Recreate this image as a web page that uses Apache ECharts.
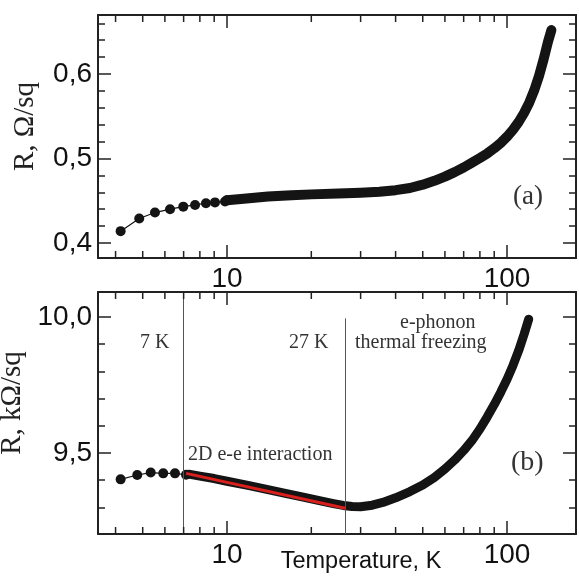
<!DOCTYPE html>
<html>
<head>
<meta charset="utf-8">
<script src="https://cdn.jsdelivr.net/npm/echarts@6/dist/echarts.min.js"></script>
<style>
html,body{margin:0;padding:0;background:#fff;}
#chart{width:579px;height:577px;}
</style>
</head>
<body>
<div id="chart"></div>
<script>
// ---------- data ----------
// panel (a): sheet resistance, ohm/sq
const T_TOP_DOTS = [4.17, 4.86, 5.53, 6.26, 6.98, 7.69, 8.41, 9.06, 9.84];
const R_TOP_DOTS = [0.414, 0.429, 0.436, 0.440, 0.443, 0.445, 0.447, 0.448, 0.449];
const T_TOP_DENSE = [10, 12, 14, 17, 20, 25, 30, 35, 40, 45, 50, 55, 60, 65, 70, 75, 80, 85, 90, 95, 100, 105, 110, 115, 120, 125, 130, 135, 140, 144];
const R_TOP_DENSE = [0.4505, 0.453, 0.455, 0.4565, 0.4575, 0.4585, 0.4595, 0.4607, 0.4625, 0.465, 0.469, 0.4735, 0.4785, 0.4838, 0.4893, 0.495, 0.5005, 0.506, 0.512, 0.5185, 0.5258, 0.534, 0.5432, 0.5538, 0.566, 0.5805, 0.5975, 0.617, 0.638, 0.652];

// panel (b): sheet resistance, kohm/sq
const T_BOT_DOTS = [4.17, 4.78, 5.34, 5.92, 6.52, 7.14];
const R_BOT_DOTS = [9.403, 9.419, 9.428, 9.425, 9.425, 9.420];
const T_BOT_DENSE = [7.3, 8, 9, 10, 12, 14, 16, 18, 20, 22, 24, 26, 28, 30, 33, 36, 40, 45, 50, 55, 60, 65, 70, 75, 80, 85, 90, 95, 100, 105, 110, 115, 119.5];
const R_BOT_DENSE = [9.422, 9.415, 9.406, 9.396, 9.380, 9.365, 9.352, 9.341, 9.331, 9.322, 9.314, 9.307, 9.303, 9.302, 9.308, 9.318, 9.335, 9.358, 9.382, 9.410, 9.441, 9.474, 9.509, 9.546, 9.588, 9.633, 9.678, 9.724, 9.771, 9.822, 9.876, 9.936, 9.992];
// 2D e-e interaction fit (red)
const T_FIT = [7.14, 26.4];
const R_FIT = [9.425, 9.297];
// regime boundaries (vertical lines)
const T_MARK_7K = 7;
const T_MARK_27K = 26.5;
const R_MARK_27K_TOP = 9.995;

// axes
const X_MIN = 3.462, X_MAX = 176.3;
const Y_TOP_MIN = 0.3822, Y_TOP_MAX = 0.6698;
const Y_BOT_MIN = 9.202, Y_BOT_MAX = 10.092;
const X_MAJOR_TICKS = [10, 100];
const X_MINOR_TICKS = [4, 5, 6, 7, 8, 9, 20, 30, 40, 50, 60, 70, 80, 90];

// ---------- helpers ----------
const zip = (a, b) => a.map((v, i) => [v, b[i]]);
const ink = '#141414';
const frame = { show: true, lineStyle: { color: '#222', width: 2 } };
const majorTick = { show: true, inside: true, length: 13, lineStyle: { color: '#222', width: 1.5 } };
const minorTick = { show: true, splitNumber: 5, length: 7, lineStyle: { color: '#222', width: 1.5 } };
const tickFont = { fontFamily: 'Liberation Sans', fontSize: 28, color: '#111' };
const serif = 'Liberation Serif';

function xLabel(v) {
  const l = Math.log10(v);
  return Math.abs(l - Math.round(l)) < 1e-6 && X_MAJOR_TICKS.indexOf(Math.round(v)) >= 0 ? String(Math.round(v)) : '';
}
function makeX(gridIndex, position, labels, extra) {
  return Object.assign({
    type: 'log', logBase: 10, gridIndex, position, min: X_MIN, max: X_MAX,
    axisLine: frame, axisTick: majorTick, splitLine: { show: false },
    axisLabel: labels ? Object.assign({ show: true, margin: 7, formatter: xLabel }, tickFont) : { show: false }
  }, extra || {});
}
function makeY(gridIndex, position, min, max, splitNumber, step, labels, extra) {
  return Object.assign({
    type: 'value', gridIndex, position, min, max, splitNumber,
    axisLine: frame, axisTick: majorTick, minorTick: minorTick,
    splitLine: { show: false }, minorSplitLine: { show: false },
    axisLabel: labels ? Object.assign({
      show: true, margin: 6,
      formatter: v => (Math.abs(v / step - Math.round(v / step)) < 1e-6 ? v.toFixed(1).replace('.', ',') : '')
    }, tickFont) : { show: false }
  }, extra || {});
}
// minor ticks of the log axes (at 2..9 x decade), drawn through the axis scales
function minorTickSeries(xi, yi, yVal, dir) {
  return {
    type: 'custom', xAxisIndex: xi, yAxisIndex: yi, silent: true, clip: false, z: 5,
    encode: { x: 0, y: 1 },
    data: X_MINOR_TICKS.map(t => [t, yVal]),
    renderItem: (params, api) => {
      const p = api.coord([api.value(0), api.value(1)]);
      return {
        type: 'line',
        shape: { x1: p[0], y1: p[1], x2: p[0], y2: p[1] + dir * 7 },
        style: { stroke: '#222', lineWidth: 1.5 }
      };
    }
  };
}

const chart = echarts.init(document.getElementById('chart'), null, { renderer: 'canvas' });
chart.setOption({
  animation: false,
  backgroundColor: '#fff',
  grid: [
    { left: 98, top: 15, width: 478, height: 243, outerBoundsMode: 'none', containLabel: false },
    { left: 98, top: 292, width: 478, height: 242, outerBoundsMode: 'none', containLabel: false }
  ],
  xAxis: [
    makeX(0, 'bottom', true),
    makeX(0, 'top', false),
    makeX(1, 'bottom', true, {
      name: 'Temperature, K', nameLocation: 'middle', nameGap: 16, nameMoveOverlap: false,
      nameTextStyle: { fontFamily: 'Liberation Sans', fontSize: 23.5, color: '#111', padding: [0, 0, 0, 48] }
    }),
    makeX(1, 'top', false)
  ],
  yAxis: [
    makeY(0, 'left', Y_TOP_MIN, Y_TOP_MAX, 3, 0.1, true, {
      name: 'R, Ω/sq', nameLocation: 'middle', nameGap: 58, nameRotate: 90,
      nameTextStyle: { fontFamily: serif, fontSize: 29, color: '#222', padding: [0, 0, 0, 20] }
    }),
    makeY(0, 'right', Y_TOP_MIN, Y_TOP_MAX, 3, 0.1, false),
    makeY(1, 'left', Y_BOT_MIN, Y_BOT_MAX, 2, 0.5, true, {
      name: 'R, kΩ/sq', nameLocation: 'middle', nameGap: 60, nameRotate: 90,
      nameTextStyle: { fontFamily: serif, fontSize: 29, color: '#222', padding: [0, 0, 0, 20] }
    }),
    makeY(1, 'right', Y_BOT_MIN, Y_BOT_MAX, 2, 0.5, false)
  ],
  series: [
    minorTickSeries(0, 0, Y_TOP_MIN, -1),
    minorTickSeries(1, 0, Y_TOP_MAX, 1),
    minorTickSeries(2, 2, Y_BOT_MIN, -1),
    minorTickSeries(3, 2, Y_BOT_MAX, 1),
    {
      name: 'R (a) low T', type: 'line', xAxisIndex: 0, yAxisIndex: 0, z: 3,
      data: zip(T_TOP_DOTS, R_TOP_DOTS).concat([[T_TOP_DENSE[0], R_TOP_DENSE[0]]]),
      symbol: 'circle', symbolSize: 10, showAllSymbol: true,
      itemStyle: { color: ink }, lineStyle: { color: ink, width: 1.2 }
    },
    {
      name: 'R (a)', type: 'line', xAxisIndex: 0, yAxisIndex: 0, z: 3,
      data: zip(T_TOP_DENSE, R_TOP_DENSE), symbol: 'none',
      lineStyle: { color: ink, width: 10, cap: 'round', join: 'round' }
    },
    {
      name: 'R (b) low T', type: 'line', xAxisIndex: 2, yAxisIndex: 2, z: 3,
      data: zip(T_BOT_DOTS, R_BOT_DOTS),
      symbol: 'circle', symbolSize: 10, showAllSymbol: true,
      itemStyle: { color: ink }, lineStyle: { color: ink, width: 1.2 },
      markLine: {
        silent: true, symbol: 'none', label: { show: false },
        lineStyle: { color: '#555', width: 1, type: 'solid' },
        data: [
          [{ coord: [T_MARK_7K, Y_BOT_MAX] }, { coord: [T_MARK_7K, Y_BOT_MIN] }],
          [{ coord: [T_MARK_27K, R_MARK_27K_TOP] }, { coord: [T_MARK_27K, Y_BOT_MIN] }]
        ]
      }
    },
    {
      name: 'R (b)', type: 'line', xAxisIndex: 2, yAxisIndex: 2, z: 3,
      data: zip(T_BOT_DENSE, R_BOT_DENSE), symbol: 'none',
      lineStyle: { color: ink, width: 9, cap: 'round', join: 'round' }
    },
    {
      name: '2D e-e fit', type: 'line', xAxisIndex: 2, yAxisIndex: 2, z: 4,
      data: zip(T_FIT, R_FIT), symbol: 'none',
      lineStyle: { color: '#d9201c', width: 3 }
    }
  ],
  graphic: [
    { type: 'text', left: 513, top: 183, style: { text: '(a)', font: '27px "Liberation Serif"', fill: '#333' } },
    { type: 'text', left: 511, top: 449, style: { text: '(b)', font: '28px "Liberation Serif"', fill: '#333' } },
    { type: 'text', left: 140, top: 333, style: { text: '7 K', font: '20px "Liberation Serif"', fill: '#333' } },
    { type: 'text', left: 289, top: 333, style: { text: '27 K', font: '20px "Liberation Serif"', fill: '#333' } },
    { type: 'text', left: 400, top: 313, style: { text: 'e-phonon', font: '20px "Liberation Serif"', fill: '#333' } },
    { type: 'text', left: 355, top: 333, style: { text: 'thermal freezing', font: '20px "Liberation Serif"', fill: '#333' } },
    { type: 'text', left: 188, top: 445, style: { text: '2D e-e interaction', font: '20px "Liberation Serif"', fill: '#333' } }
  ]
});
</script>
</body>
</html>
